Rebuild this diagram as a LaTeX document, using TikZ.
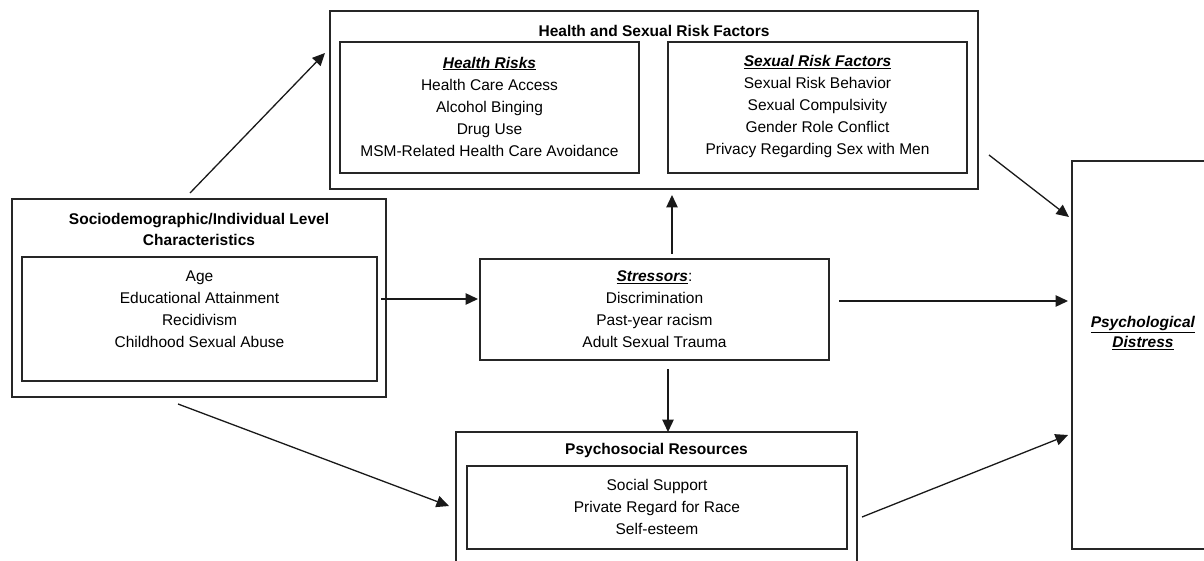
\documentclass[tikz,border=0pt]{standalone}
\usepackage{fontspec}
\setmainfont{Liberation Sans}
\usetikzlibrary{arrows.meta,calc}
\newcommand\myhdr[1]{\underline{\textbf{\textit{#1}}}}
\tikzset{
  box/.style={draw=black!85, line width=1.3pt, inner sep=0pt, outer sep=0pt},
  txt/.style={align=center, inner sep=0pt, font=\fontsize{15.5}{22}\selectfont},
  ttl/.style={txt, font=\fontsize{15.5}{21}\selectfont\bfseries},
  arr/.style={-{Triangle[length=12.5pt,width=11.5pt]}, line width=1.3pt, draw=black!90}
}
\begin{document}
\begin{tikzpicture}[x=1pt,y=-1pt]
\useasboundingbox (0,0) rectangle (1204,561);
% boxes
\node[box, minimum width=648pt, minimum height=178pt] (top) at (654,100) {};
\node[box, minimum width=299pt, minimum height=131pt] (hr) at (489.5,107.5) {};
\node[box, minimum width=299pt, minimum height=131pt] (sr) at (817.5,107.5) {};
\node[box, minimum width=374pt, minimum height=198pt] (soc) at (199,298) {};
\node[box, minimum width=355pt, minimum height=124pt] (socin) at (199.5,319) {};
\node[box, minimum width=349pt, minimum height=101pt] (str) at (654.5,309.5) {};
\node[box, minimum width=401pt, minimum height=148pt] (psy) at (656.5,506) {};
\node[box, minimum width=380pt, minimum height=83pt] (psyin) at (657,507.5) {};
\node[box, minimum width=168pt, minimum height=388pt] (pd) at (1156,355) {};
% texts
\node[ttl] (toptitle) at (654,31) {Health and Sexual Risk Factors};
\node[txt] (hrt) at (489.5,106.5) {\myhdr{Health Risks}\\Health Care Access\\Alcohol Binging\\Drug Use\\MSM-Related Health Care Avoidance};
\node[txt] (srt) at (817.5,106.5) {\myhdr{Sexual Risk Factors}\\Sexual Risk Behavior\\Sexual Compulsivity\\Gender Role Conflict\\Privacy Regarding Sex with Men};
\node[ttl] (soct) at (199,229.5) {Sociodemographic/Individual Level\\Characteristics};
\node[txt] (socint) at (199.5,309) {Age\\Educational Attainment\\Recidivism\\Childhood Sexual Abuse};
\node[txt] (strt) at (654.5,309.5) {\myhdr{Stressors}:\\Discrimination\\Past-year racism\\Adult Sexual Trauma};
\node[ttl] (psyt) at (656.5,450) {Psychosocial Resources};
\node[txt] (psyint) at (657,507) {Social Support\\Private Regard for Race\\Self-esteem};
\node[txt, font=\fontsize{15.5}{20}\selectfont] (pdt) at (1143,333) {\myhdr{Psychological}\\\myhdr{Distress}};
% arrows
\draw[arr] ($(soc.north)+(-9,-6)$) -- ($(top.north west)+(-5,42)$);
\draw[arr] ($(soc.east)+(-5,1)$) -- ($(str.west)+(-2,-10.5)$);
\draw[arr] ($(soc.south)+(-21,7)$) -- ($(psy.west)+(-7,0)$);
\draw[arr] ($(str.north)+(17.5,-5)$) -- ($(top.south)+(18,6)$);
\draw[arr] ($(str.south)+(13.5,9)$) -- ($(psy.north)+(11.5,0)$);
\draw[arr] ($(str.east)+(10,-8.5)$) -- ($(pd.west)+(-4,-54)$);
\draw[arr] ($(top.south east)+(11,-34)$) -- ($(pd.north west)+(-3,56)$);
\draw[arr] ($(psy.east)+(5,11)$) -- ($(pd.west)+(-4,80)$);
\end{tikzpicture}
\end{document}
